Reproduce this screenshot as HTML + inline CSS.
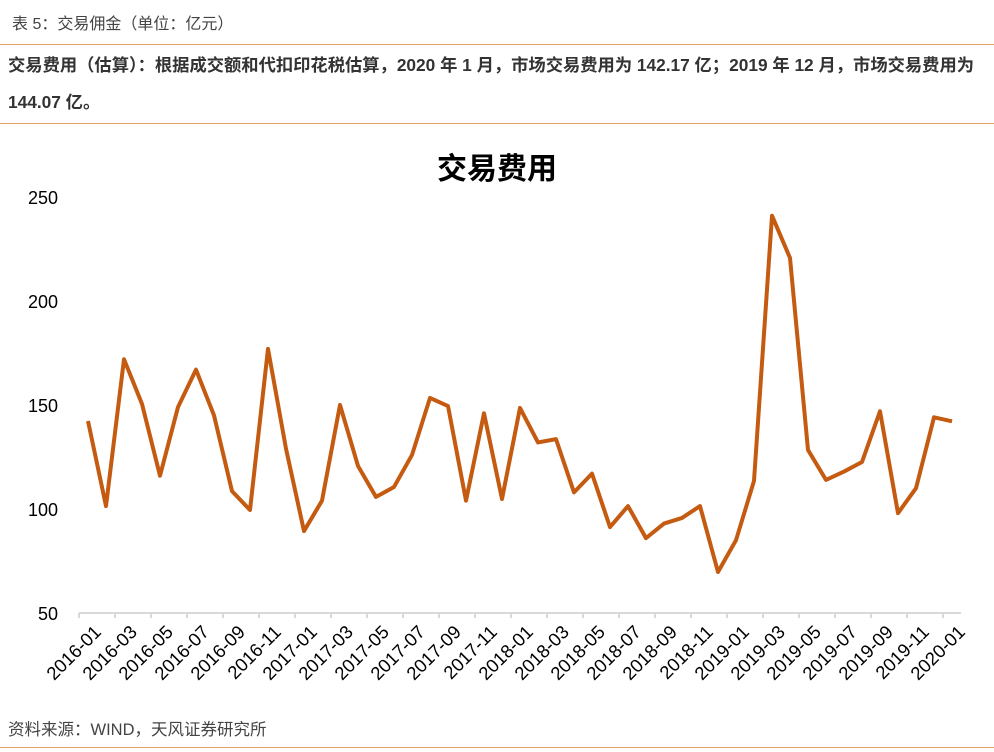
<!DOCTYPE html>
<html><head><meta charset="utf-8"><style>
body{margin:0;background:#fff;width:994px;height:752px;overflow:hidden;font-family:"Liberation Sans","Noto Sans CJK SC",sans-serif;}
.hd{position:absolute;left:12px;top:10px;font-size:16px;color:#444;}
.ln{position:absolute;left:0;width:994px;height:1px;background:#e0a060;}
.desc{position:absolute;left:8px;top:47px;width:986px;font-size:17.3px;font-weight:bold;color:#333;line-height:37px;}
.ft{position:absolute;left:8px;top:716px;font-size:16.5px;color:#444;}
svg{position:absolute;left:0;top:0;}
</style></head><body>
<div class="hd">表 5：交易佣金（单位：亿元）</div>
<div class="ln" style="top:44px"></div>
<div class="desc">交易费用（估算）：根据成交额和代扣印花税估算，2020 年 1 月，市场交易费用为 142.17 亿；2019 年 12 月，市场交易费用为 144.07 亿。</div>
<div class="ln" style="top:123px"></div>
<svg id="chart" width="994" height="752"></svg>
<div class="ft">资料来源：WIND，天风证券研究所</div>
<div class="ln" style="top:747px"></div>
<script>
const values=[142.3,101.4,172,150.5,116,149,167,145,108.6,99.5,177,129,89.4,104,150,120.7,105.8,110.6,126,153.4,149.5,104,146,104.8,148.6,132,133.6,108,117,91.3,101.4,86,93,95.7,101.4,69.7,85,113.5,241,220.7,128.4,114,118,122.6,147,98,110,144.07,142.17];
const yTicks=[50,100,150,200,250];
const startYear=2016;
const labels=values.map((v,i)=>{const y=startYear+Math.floor(i/12),m=i%12+1;return y+'-'+(m<10?'0':'')+m;});
const NS='http://www.w3.org/2000/svg',svg=document.getElementById('chart');
const x0=79,x1=961,yBase=613,yTop=197;
const bw=(x1-x0)/values.length;
const X=i=>x0+bw*(i+0.5);
const Y=v=>yBase-(v-50)/(250-50)*(yBase-yTop);
function mk(t,a){const e=document.createElementNS(NS,t);for(const k in a)e.setAttribute(k,a[k]);svg.appendChild(e);return e;}
let t=mk('text',{x:497,y:179,'text-anchor':'middle','font-size':'30','font-weight':'bold',fill:'#000'});t.textContent='交易费用';


yTicks.forEach(v=>{const e=mk('text',{x:58,y:Y(v)+7,'text-anchor':'end','font-size':'18',fill:'#000'});e.textContent=v;

});
let ax=mk('line',{x1:x0,x2:x1,y1:yBase,y2:yBase,stroke:'#d9d9d9','stroke-width':2});


for(let i=0;i<=values.length;i+=2){const tk=mk('line',{x1:x0+bw*i,x2:x0+bw*i,y1:yBase,y2:yBase+5,stroke:'#d9d9d9','stroke-width':2});

}
labels.forEach((l,i)=>{if(i%2)return;const cx=X(i)+5,cy=yBase+11;const e=mk('text',{x:cx,y:cy,'text-anchor':'end','font-size':'18.5',fill:'#000',transform:`rotate(-45 ${cx} ${cy})`,dy:'0.7em'});e.textContent=l;

});
const p=mk('polyline',{points:values.map((v,i)=>X(i)+','+Y(v)).join(' '),fill:'none',stroke:'#c55a11','stroke-width':4,'stroke-linejoin':'round'});


</script>
</body></html>
